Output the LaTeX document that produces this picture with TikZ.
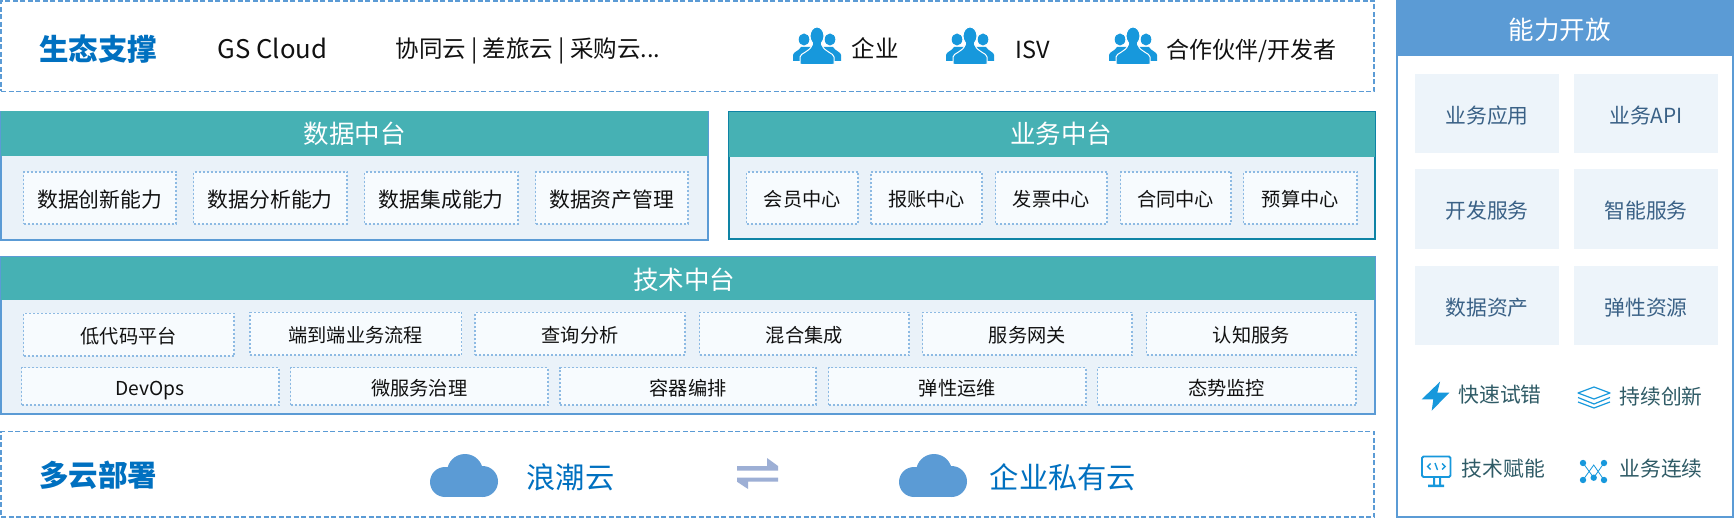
\documentclass[tikz,border=0pt]{standalone}
\usepackage{fontspec}
\setmainfont{Noto Sans CJK SC}
\definecolor{frameblue}{HTML}{5B9BD5}
\definecolor{teal}{HTML}{46B1B4}
\definecolor{panelbg}{HTML}{EAF2F9}
\definecolor{subbg}{HTML}{F7FBFE}
\definecolor{dotline}{HTML}{8DBAE3}
\definecolor{bizline}{HTML}{0E83A5}
\definecolor{heading}{HTML}{0070C0}
\definecolor{iconblue}{HTML}{1798DC}
\definecolor{swapgrey}{HTML}{9DAFD5}
\definecolor{tilebg}{HTML}{EDF4FA}
\definecolor{tiletext}{HTML}{3A6186}
\definecolor{noteink}{HTML}{2F5B66}
\definecolor{ink}{HTML}{111111}
% Font sizes are given in picture units
\newcommand{\fs}[1]{\fontsize{#1}{#1}\selectfont}
% Rectangle node from its corners: style, name, x1, y1, x2, y2, text
\newcommand{\pxbox}[7]{%
  \pgfmathsetmacro{\pw}{#5-#3}\pgfmathsetmacro{\ph}{#6-#4}%
  \pgfmathsetmacro{\pcx}{(#3+#5)/2}\pgfmathsetmacro{\pcy}{(#4+#6)/2}%
  \node[#1,minimum width=\pw pt,minimum height=\ph pt] (#2) at (\pcx,\pcy) {\raisebox{-1.6pt}[.88em][.12em]{#7}};}
% Free label centred on a point: style, name, x, y, text
\newcommand{\lbl}[5]{\node[#1] (#2) at (#3,#4) {\vphantom{中}#5};}
\tikzset{
  x=1pt,y=-1pt,
  base/.style={inner sep=0pt,outer sep=0pt,align=center},
  dashframe/.style={base,draw=frameblue,line width=1.5pt,dash pattern=on 5pt off 2.5pt,fill=white},
  sidepanel/.style={base,draw=frameblue,line width=1.6pt,fill=panelbg},
  bizpanel/.style={base,draw=bizline,line width=1.6pt,fill=panelbg},
  tealhead/.style={base,fill=teal},
  headtext/.style={base,text=white,font=\fs{25.5}},
  cell/.style={base,draw=dotline,line width=1.4pt,dash pattern=on 2pt off 2pt,fill=subbg,text=ink},
  cellA/.style={cell,font=\fs{20.8}},
  cellB/.style={cell,font=\fs{19.2}},
  caption/.style={base,text=ink},
  sectitle/.style={base,text=heading,font=\fs{29.5}\bfseries},
  cloudtext/.style={base,text=heading,font=\fs{29.3}},
  tile/.style={base,fill=tilebg,text=tiletext,font=\fs{20.8}},
  note/.style={base,text=noteink,font=\fs{20.8}},
  people/.pic={
    \fill[iconblue] (11,11.5) ellipse [x radius=5.3,y radius=6];
    \fill[iconblue] (37,11.5) ellipse [x radius=5.3,y radius=6];
    \fill[iconblue] (0,33) -- (0,27) .. controls (0,24) and (6,23) .. (8,19) -- (40,19) .. controls (42,23) and (48,24) .. (48,27) -- (48,33) -- cycle;
    \fill[iconblue,draw=white,line width=1pt] (7,36.5) -- (7,29) .. controls (7,25) and (17,24) .. (19,17) -- (29,17) .. controls (31,24) and (41,25) .. (41,29) -- (41,36.5) -- cycle;
    \fill[iconblue,draw=white,line width=1pt] (24,8) ellipse [x radius=7,y radius=9];
    \fill[iconblue] (20,12) rectangle (28,20);
    \fill[iconblue] (9,36) -- (9,30) .. controls (9,26) and (18,25) .. (20,18) -- (28,18) .. controls (30,25) and (39,26) .. (39,30) -- (39,36) -- cycle;
  },
  cloudicon/.pic={
    \fill[frameblue] (15,28) circle [radius=15] (52.5,27.5) circle [radius=15.5] (35,18) circle [radius=18];
    \fill[frameblue] (15,20) rectangle (52.5,43);
  },
}
\begin{document}
\begin{tikzpicture}
\useasboundingbox[fill=white] (0,0) rectangle (1734,526);

% Ecosystem band
\pxbox{dashframe}{eco}{1}{1}{1374}{91.5}{}
\lbl{sectitle}{ecotitle}{98}{49}{生态支撑}
\lbl{caption,font=\fs{25.7}}{gscloud}{272.5}{48.5}{GS Cloud}
\lbl{caption,font=\fs{23.5}}{saas}{528}{50.5}{协同云 | 差旅云 | 采购云...}
\pic at (793,28) {people};
\pic at (946,28) {people};
\pic at (1109,28) {people};
\lbl{caption,font=\fs{23.5}}{ent}{875}{48}{企业}
\lbl{caption,font=\fs{23.5}}{isv}{1032.5}{49.5}{ISV}
\lbl{caption,font=\fs{23}}{partner}{1251.5}{50.5}{合作伙伴/开发者}

% Data platform
\pxbox{sidepanel}{datap}{1}{112}{708}{240}{}
\pxbox{tealhead}{datah}{1}{111.5}{708}{156}{}
\lbl{headtext}{datat}{354.5}{134}{数据中台}
\pxbox{cellA}{d1}{23.5}{172}{176}{224}{数据创新能力}
\pxbox{cellA}{d2}{193.5}{172}{347}{224}{数据分析能力}
\pxbox{cellA}{d3}{364.5}{172}{518}{224}{数据集成能力}
\pxbox{cellA}{d4}{535.5}{172}{688}{224}{数据资产管理}

% Business platform
\pxbox{bizpanel}{bizp}{729}{112}{1375}{239}{}
\pxbox{tealhead}{bizh}{729}{112}{1375}{157}{}
\lbl{headtext}{bizt}{1061}{133.5}{业务中台}
\pxbox{cellB}{b1}{746.5}{172}{858}{224}{会员中心}
\pxbox{cellB}{b2}{871}{172}{982}{224}{报账中心}
\pxbox{cellB}{b3}{995.5}{172}{1107}{224}{发票中心}
\pxbox{cellB}{b4}{1120.5}{172}{1231}{224}{合同中心}
\pxbox{cellB}{b5}{1243.5}{172}{1357}{224}{预算中心}

% Technology platform
\pxbox{sidepanel}{techp}{1}{257}{1375}{414}{}
\pxbox{tealhead}{techh}{1}{257}{1375}{300}{}
\lbl{headtext}{techt}{684}{280}{技术中台}
\pxbox{cellB}{t1}{23.5}{313.5}{234}{356}{低代码平台}
\pxbox{cellB}{t2}{250}{312.5}{461.5}{355}{端到端业务流程}
\pxbox{cellB}{t3}{475}{312.5}{685}{355}{查询分析}
\pxbox{cellB}{t4}{699.5}{312.5}{909}{355}{混合集成}
\pxbox{cellB}{t5}{922.5}{312.5}{1132}{355}{服务网关}
\pxbox{cellB}{t6}{1146.5}{312.5}{1356}{355}{认知服务}
\pxbox{cellB}{t7}{21.5}{367.5}{279}{405}{DevOps}
\pxbox{cellB}{t8}{290.5}{367.5}{548}{405}{微服务治理}
\pxbox{cellB}{t9}{560}{367.5}{816}{405}{容器编排}
\pxbox{cellB}{t10}{828.5}{367.5}{1086}{405}{弹性运维}
\pxbox{cellB}{t11}{1097.5}{367.5}{1356}{405}{态势监控}

% Multi-cloud deployment band
\pxbox{dashframe}{multi}{1}{431.5}{1374}{517}{}
\lbl{sectitle}{multititle}{98}{475}{多云部署}
\pic at (430,454) {cloudicon};
\lbl{cloudtext}{inspur}{570.5}{477.5}{浪潮云}
\fill[swapgrey] (737,466) -- (767,466) -- (767,458) -- (778,466) -- (778,470.5) -- (737,470.5) -- cycle;
\fill[swapgrey] (737,477.5) -- (778,477.5) -- (778,481.7) -- (748,481.7) -- (748,489) -- (737,481.7) -- cycle;
\pic at (899,454) {cloudicon};
\lbl{cloudtext}{private}{1063}{477.5}{企业私有云}

% Capability panel
\pxbox{base,draw=frameblue,line width=1.6pt,fill=white}{open}{1396.8}{0.8}{1733}{517}{}
\pxbox{base,fill=frameblue}{openh}{1396}{0}{1734}{56}{}
\lbl{headtext}{opent}{1559.5}{30}{能力开放}
\pxbox{tile}{o1}{1415}{74}{1559}{153}{业务应用}
\pxbox{tile}{o2}{1574}{74}{1718}{153}{业务API}
\pxbox{tile}{o3}{1415}{169}{1559}{249}{开发服务}
\pxbox{tile}{o4}{1574}{169}{1718}{249}{智能服务}
\pxbox{tile}{o5}{1415}{266}{1559}{345}{数据资产}
\pxbox{tile}{o6}{1574}{266}{1718}{345}{弹性资源}

% Capability notes with their glyphs
\fill[iconblue] (1440,381.7) -- (1421.7,399.3) -- (1433.3,399.3) -- (1431.7,410.7) -- (1449.3,392.7) -- (1437.3,392.7) -- cycle;
\lbl{note}{n1}{1500}{395}{快速试错}
\draw[iconblue,line width=1.2pt,line join=round] (1578,393) -- (1594,387) -- (1610,393) -- (1594,399) -- cycle;
\draw[iconblue,line width=1.2pt,line join=round] (1578,397.5) -- (1594,404) -- (1610,397.5);
\draw[iconblue,line width=1.2pt,line join=round] (1578,402) -- (1594,408) -- (1610,402);
\lbl{note}{n2}{1661}{397}{持续创新}
\draw[iconblue,line width=1.8pt,rounded corners=1.5pt] (1422,456.5) rectangle (1450.5,477);
\fill[iconblue] (1433,477) rectangle (1435,485) (1439,477) rectangle (1441,485) (1428,484.5) rectangle (1444,487);
\draw[iconblue,line width=1.4pt] (1430.5,463.5) -- (1427.5,466.5) -- (1430.5,469.5) (1435,463) -- (1437.5,470) (1442,463.5) -- (1445,466.5) -- (1442,469.5);
\lbl{note}{n3}{1503.5}{469}{技术赋能}
\draw[iconblue,line width=.8pt] (1583,463) -- (1593.7,477.7) -- (1604,463) (1583,480) -- (1593.7,465) -- (1604,480);
\fill[iconblue] (1583,463) circle [radius=3.2] (1604,463) circle [radius=3.2] (1583,480) circle [radius=3.2] (1604,480) circle [radius=3.2] (1593.7,477.7) circle [radius=3.2];
\lbl{note}{n4}{1661}{469}{业务连续}
\end{tikzpicture}
\end{document}
